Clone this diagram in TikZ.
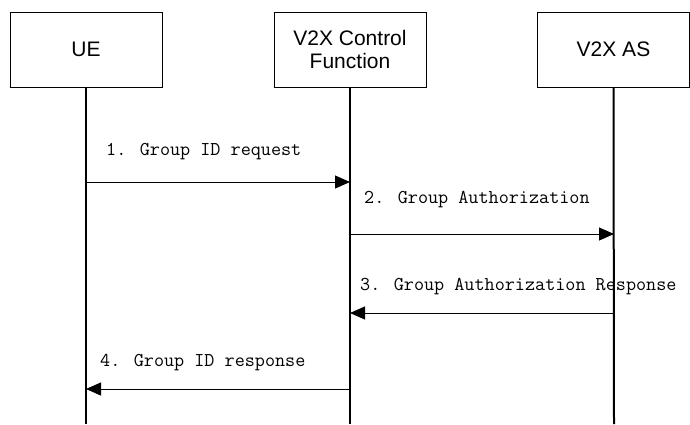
\documentclass[tikz,border=0pt]{standalone}
\usepackage{fontspec}
\newfontfamily\boxfont{Liberation Sans}
\usetikzlibrary{arrows.meta}
\begin{document}
\begin{tikzpicture}[x=1pt,y=-1pt,
  entity/.style={draw,line width=1pt,minimum width=152pt,minimum height=75pt,inner sep=0pt,
    align=center,font=\boxfont\fontsize{21}{23}\selectfont},
  life/.style={line width=2pt},
  msg/.style={line width=1pt,-{Triangle[length=15pt,width=13pt]}},
  lbl/.style={anchor=west,inner sep=0pt,font=\ttfamily\fontsize{19.6}{22}\selectfont}]
\useasboundingbox (0,0) rectangle (690,424);
\node[entity] (ue) at (86,49.5) {UE};
\node[entity] (cf) at (350,49.5) {V2X Control\\Function};
\node[entity] (as) at (613.5,49.5) {V2X AS};
\coordinate (ueb) at (86,424);
\coordinate (cfb) at (350,424);
\coordinate (asb) at (614,424);
\draw[life] (ue.south) -- (ueb);
\draw[life] (cf.south) -- (cfb);
\draw[life] (as.south) -- (asb);
\coordinate (u1) at (86,182); \coordinate (c1) at (350,182);
\coordinate (c2) at (350,234); \coordinate (a2) at (614,234);
\coordinate (a3) at (614,313); \coordinate (c3) at (350,313);
\coordinate (c4) at (350,389); \coordinate (u4) at (86,389);
\draw[msg] (u1) -- (c1);
\draw[msg] (c2) -- (a2);
\draw[msg] (a3) -- (c3);
\draw[msg] (c4) -- (u4);
\node[lbl] (l1) at (106,152) {1. Group ID request};
\node[lbl] (l2) at (364,200) {2. Group Authorization};
\node[lbl] (l3) at (360,287) {3. Group Authorization Response};
\node[lbl] (l4) at (100,363) {4. Group ID response};
\end{tikzpicture}
\end{document}
